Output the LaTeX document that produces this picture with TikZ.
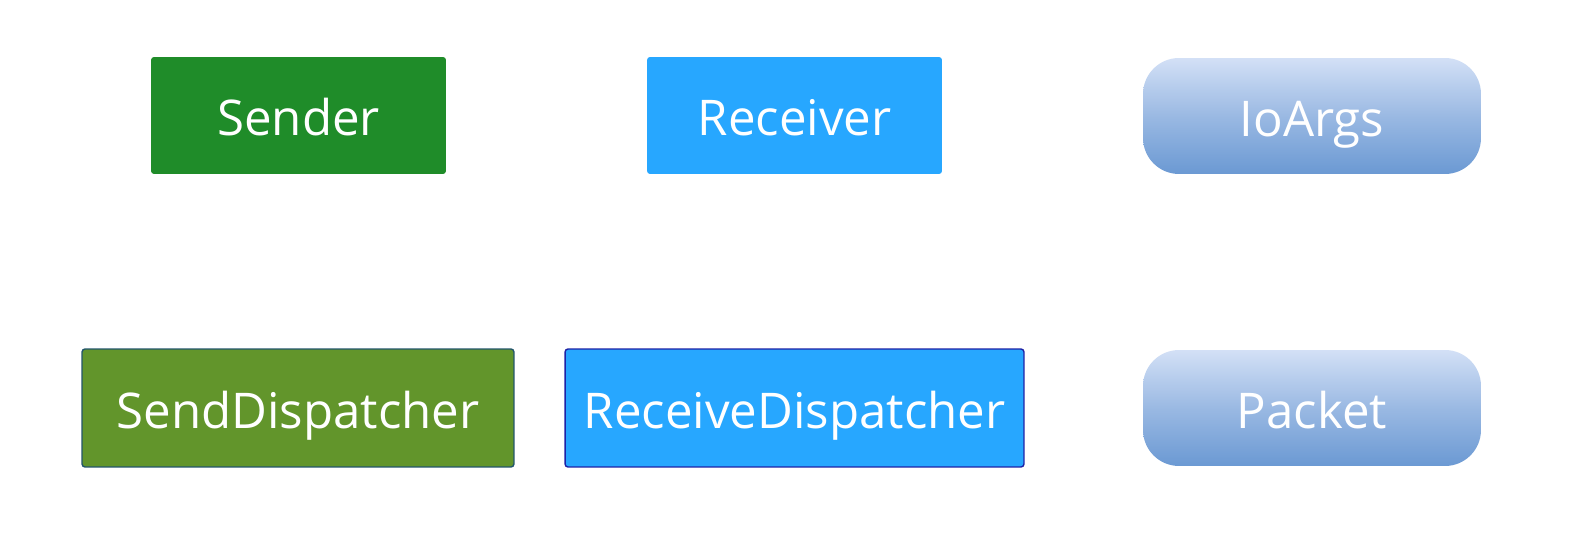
\documentclass[tikz,border=0pt]{standalone}
\usepackage{fontspec}
\setmainfont{Open Sans}
\usetikzlibrary{positioning}
\definecolor{sendgreen}{HTML}{1F8C29}
\definecolor{dispgreen}{HTML}{62952B}
\definecolor{dispedge}{HTML}{22566A}
\definecolor{recvblue}{HTML}{27A7FF}
\definecolor{recvedge}{HTML}{1D22A6}
\definecolor{pilltop}{HTML}{D3E0F6}
\definecolor{pillbot}{HTML}{6B99D3}

\tikzset{
  box/.style={rectangle,rounded corners=0.06cm,text=white,font=\fontsize{28}{32}\selectfont,text height=25pt,text depth=2pt,minimum height=2.34cm,inner sep=0pt},
  pill/.style={rectangle,rounded corners=0.72cm,text=white,font=\fontsize{28}{32}\selectfont,text height=25pt,text depth=2pt,minimum width=6.76cm,minimum height=2.32cm,top color=pilltop,bottom color=pillbot,middle color=pilltop!45!pillbot,inner sep=0pt}
}

\begin{document}
\begin{tikzpicture}[x=0.02cm,y=-0.02cm]
\useasboundingbox[fill=white] (0,0) rectangle (1577,543);

% top row
\node[box,fill=sendgreen,minimum width=5.9cm] (sender) at (298.5,115.5) {Sender};
\node[box,fill=recvblue,minimum width=5.9cm] (receiver) at (794.5,115.5) {Receiver};
\node[pill] (ioargs) at (1312,116) {IoArgs};

% bottom row
\node[box,fill=dispgreen,draw=dispedge,line width=0.8pt,minimum width=8.64cm,minimum height=2.36cm] (senddisp) at (298,408) {SendDispatcher};
\node[box,fill=recvblue,draw=recvedge,line width=0.8pt,minimum width=9.18cm,minimum height=2.36cm] (recvdisp) at (794.5,408) {ReceiveDispatcher};
\node[pill] (packet) at (1312,408) {Packet};
\end{tikzpicture}
\end{document}
